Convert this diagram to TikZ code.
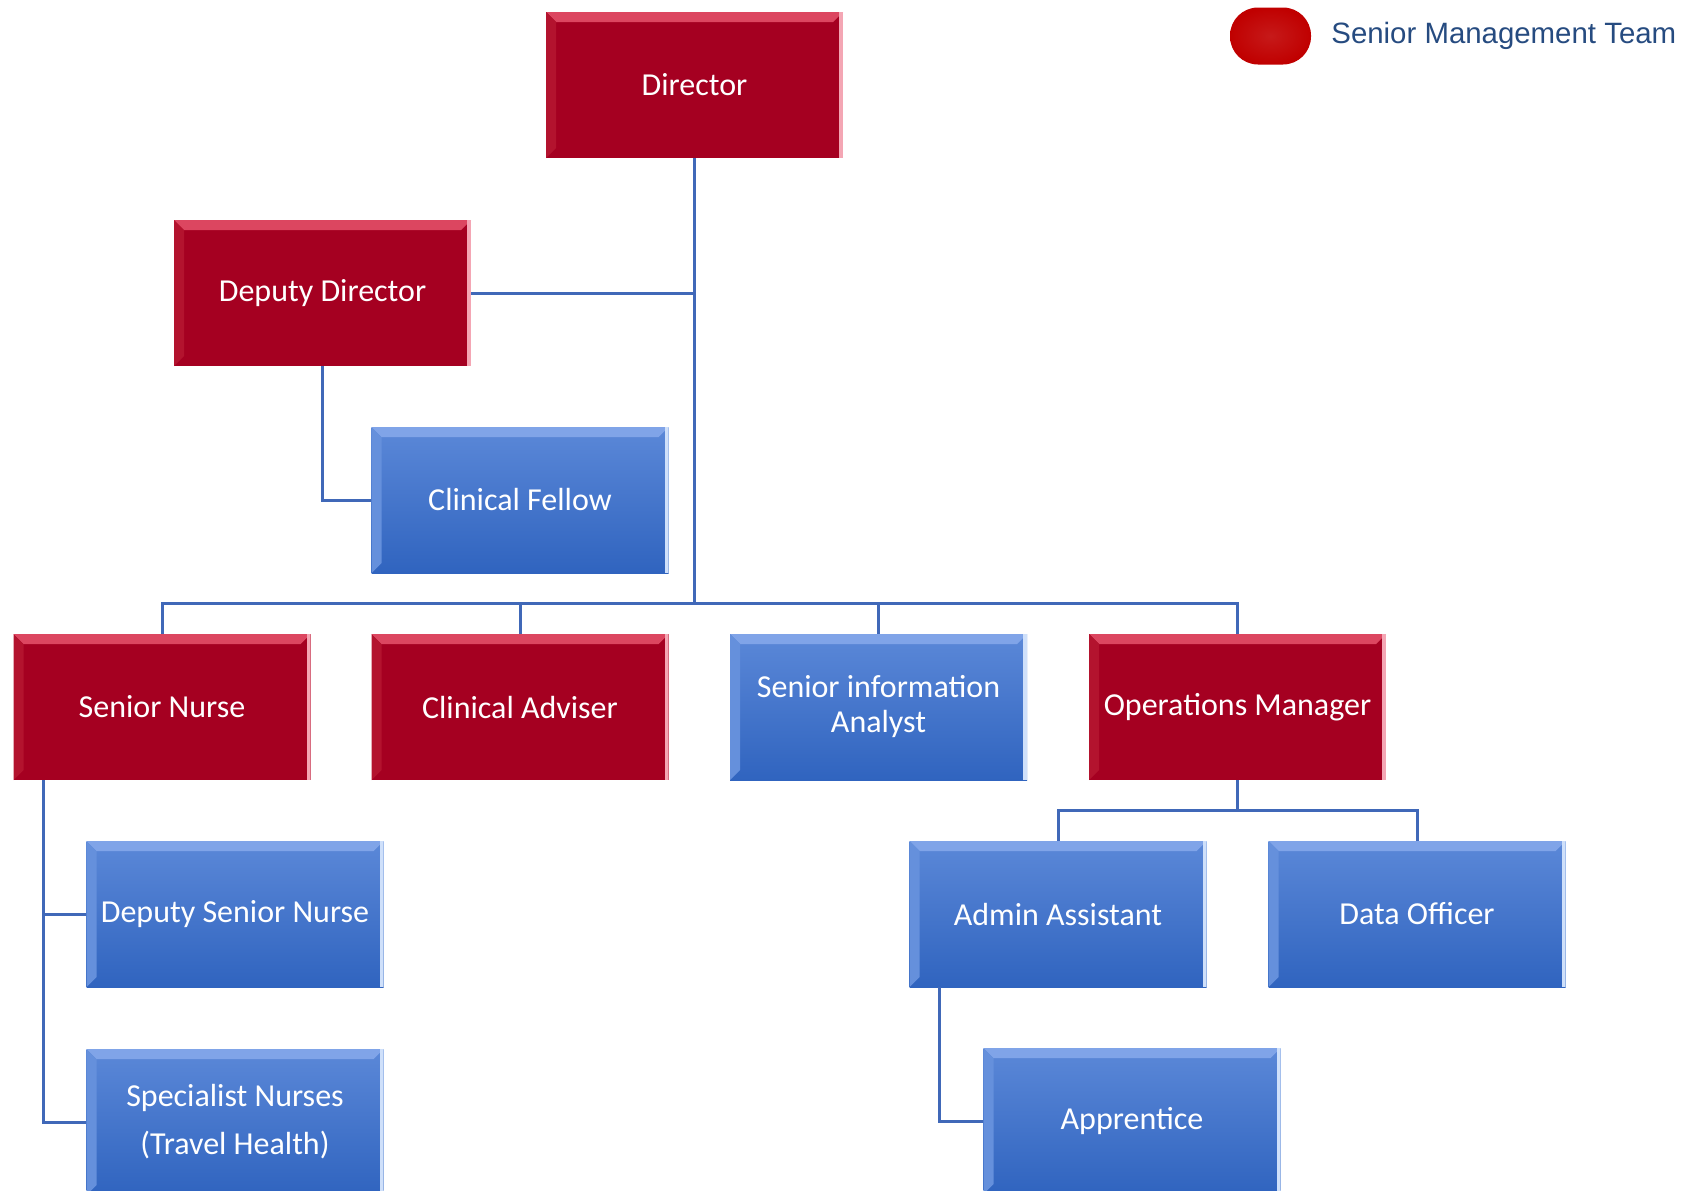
\documentclass[tikz,border=0pt]{standalone}
\usepackage{fontspec}
\setmainfont{Carlito}
\newfontfamily\legendfont{Liberation Sans}
\usetikzlibrary{positioning}

\definecolor{smtRed}{HTML}{A50021}
\definecolor{smtRedTop}{HTML}{DC4660}
\definecolor{smtRedSide}{HTML}{B3132E}
\definecolor{smtRedEdge}{HTML}{F4A6B4}
\definecolor{staffTop}{HTML}{5B88D8}
\definecolor{staffBottom}{HTML}{3064BF}
\definecolor{staffBevel}{HTML}{80A4E8}
\definecolor{staffSide}{HTML}{6590DC}
\definecolor{staffEdge}{HTML}{CFE0FA}
\definecolor{lineBlue}{HTML}{4068B8}
\definecolor{legendText}{HTML}{264B80}
\definecolor{pillRed}{HTML}{C00000}

% bevelled edges of a box: top band, left band, right edge
\newcommand{\bevelbox}[3]{%
  \fill[#1] (path picture bounding box.north west) -- (path picture bounding box.north east)
    -- ([xshift=-10pt,yshift=-10pt]path picture bounding box.north east)
    -- ([xshift=10pt,yshift=-10pt]path picture bounding box.north west) -- cycle;
  \fill[#2] (path picture bounding box.north west)
    -- ([xshift=10pt,yshift=-10pt]path picture bounding box.north west)
    -- ([xshift=10pt,yshift=10pt]path picture bounding box.south west)
    -- (path picture bounding box.south west) -- cycle;
  \fill[#3] ([xshift=-4pt]path picture bounding box.north east) rectangle (path picture bounding box.south east);
}

\tikzset{
  box/.style={rectangle, minimum width=297pt, minimum height=146pt, inner sep=4pt,
    text=white, align=center, font=\fontsize{32}{35}\selectfont},
  senior/.style={box, fill=smtRed, path picture={\bevelbox{smtRedTop}{smtRedSide}{smtRedEdge}}},
  staff/.style={box, top color=staffTop, bottom color=staffBottom,
    path picture={\bevelbox{staffBevel}{staffSide}{staffEdge}}},
  link/.style={draw=lineBlue, line width=3pt},
  legendpill/.style={rectangle, rounded corners=28pt, minimum width=81pt, minimum height=57pt,
    inner color=pillRed!90!white, outer color=pillRed},
}

\begin{document}
\begin{tikzpicture}[x=1pt,y=-1pt]
        \useasboundingbox (0,0) rectangle (1692,1191);

        % Senior management team and staff
        \node[senior] (Director) at (694.5,85) {Director};
        \node[senior] (DeputyDirector) at (322.5,293) {Deputy Director};
        \node[staff] (ClinicalFellow) at (520,500) {Clinical Fellow};

        \node[senior] (SeniorNurse) at (162,707) {Senior Nurse};
        \node[senior] (ClinicalAdviser) at (520,707) {Clinical Adviser};
        \node[staff] (Analyst) at (878.5,707) {Senior information\\Analyst};
        \node[senior] (OpsManager) at (1237.5,707) {Operations Manager};

        \node[staff] (DeputySeniorNurse) at (235,914) {Deputy Senior Nurse};
        \node[staff, font=\fontsize{32}{48}\selectfont] (SpecialistNurses) at (235,1122) {Specialist Nurses\\(Travel Health)};

        \node[staff] (AdminAssistant) at (1058,914) {Admin Assistant};
        \node[staff] (DataOfficer) at (1417,914) {Data Officer};
        \node[staff] (Apprentice) at (1132,1121) {Apprentice};

        % Legend
        \node[legendpill] (legendKey) at (1270.5,36) {};
        \node[right=20pt of legendKey, inner sep=0pt, text=legendText, font=\legendfont\fontsize{29.4}{35}\selectfont] (legendLabel) {Senior Management Team};

        % Lines from the director
        \coordinate (busTop) at (694.5,603);
        \draw[link] (Director.south) -- (busTop);
        \draw[link] (DeputyDirector.east) -- (DeputyDirector.east -| Director.south);
        \draw[link] (DeputyDirector.south) |- (ClinicalFellow.west);
        \draw[link] (SeniorNurse.north) |- (busTop) -| (OpsManager.north);
        \draw[link] (ClinicalAdviser.north) -- (ClinicalAdviser.north |- busTop);
        \draw[link] (Analyst.north) -- (Analyst.north |- busTop);

        % Nursing team
        \coordinate (nurseLine) at ([xshift=30pt]SeniorNurse.south west);
        \draw[link] (nurseLine) |- (SpecialistNurses.west);
        \draw[link] (DeputySeniorNurse.west) -- (DeputySeniorNurse.west -| nurseLine);

        % Operations team
        \coordinate (opsBus) at (1237.5,810);
        \draw[link] (OpsManager.south) -- (opsBus);
        \draw[link] (AdminAssistant.north) |- (opsBus) -| (DataOfficer.north);
        \draw[link] ([xshift=30pt]AdminAssistant.south west) |- (Apprentice.west);

\end{tikzpicture}
\end{document}
